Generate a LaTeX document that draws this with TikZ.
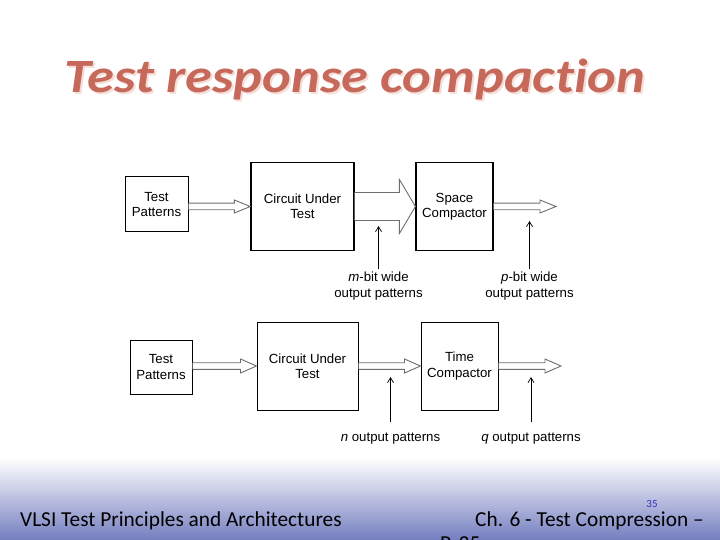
\documentclass[tikz,border=0pt]{standalone}
\usepackage{fontspec}
\setmainfont{Liberation Sans}
\newfontfamily\slidefont{Carlito}[Ligatures = CommonOff]
\usetikzlibrary{calc, arrows.meta}

\definecolor{titlered}{RGB}{198,104,90}
\definecolor{titleshade}{RGB}{246,222,216}
\definecolor{footblue}{RGB}{116,126,192}
\definecolor{pageblue}{RGB}{50,50,190}
\definecolor{shaftgray}{RGB}{110,110,110}

\newcommand{\diagfont}{\fontsize{13.3}{15.5}\selectfont}

% hollow block arrow: start, end, shaft half width, head half width, head length
\newcommand{\blockarrow}[5]{%
    \draw[shaftgray, line width = 0.9bp, fill = white] let \p1 = (#1), \p2 = (#2) in
        (\x1, \y1 + #3) -- (\x2 - #5, \y1 + #3) -- (\x2 - #5, \y1 + #4) -- (\x2, \y1)
        -- (\x2 - #5, \y1 - #4) -- (\x2 - #5, \y1 - #3) -- (\x1, \y1 - #3);
}

\begin{document}
\begin{tikzpicture}[x = 1bp, y = -1bp,
    blk/.style = {draw, line width = 1bp, align = center, font = \diagfont, inner sep = 0pt},
    lbl/.style = {align = center, font = \diagfont, inner sep = 1bp},
    ptr/.style = {-{Straight Barb[length = 5bp, width = 6bp]}, line width = 0.7bp},
    ttl/.style = {anchor = base, inner sep = 0pt, font = \slidefont\bfseries\itshape\fontsize{48}{50}\selectfont},
    foot/.style = {anchor = base west, inner sep = 0pt, font = \slidefont\fontsize{21.4}{24}\selectfont}]
    \useasboundingbox (0, 0) rectangle (720, 540);
    \begin{scope}
    \clip (0, 0) rectangle (720, 540);

    % footer band
    \shade[top color = white, bottom color = footblue] (0, 458) rectangle (720, 540);

    % title
    \node[ttl, text = titleshade] at (357, 95) {\scalebox{1.14}[1]{Test response compaction}};
    \node[ttl, text = titlered] (title) at (355, 93) {\scalebox{1.14}[1]{Test response compaction}};

    % space compaction
    \node[blk, minimum width = 63bp, minimum height = 55bp] (tp1) at (156.5, 204.5) {Test\\Patterns};
    \node[blk, line width = 1.4bp, minimum width = 103bp, minimum height = 88bp] (cut1) at (302.5, 206.5) {Circuit Under\\Test};
    \node[blk, line width = 1.2bp, minimum width = 77bp, minimum height = 88bp] (sc1) at (454.5, 206.5) {Space\\Compactor};
    \coordinate (out1) at (556, 207);

    \blockarrow{tp1.east |- cut1.west}{cut1.west}{3.3bp}{6.5bp}{16bp}
    \blockarrow{cut1.east}{sc1.west}{14bp}{27bp}{16bp}
    \blockarrow{sc1.east}{out1}{3.3bp}{6.5bp}{16bp}

    \node[lbl, anchor = north] (mlab) at (378.5, 271) {\textit{m}-bit wide\\output patterns};
    \node[lbl, anchor = north] (plab) at (529.5, 271) {\textit{p}-bit wide\\output patterns};
    \coordinate (mtip) at (378.5, 226);
    \coordinate (ptip) at (529.5, 221);
    \draw[ptr, shorten <= 2bp] (mlab.north) -- (mtip);
    \draw[ptr, shorten <= 2bp] (plab.north) -- (ptip);

    % time compaction
    \node[blk, minimum width = 62bp, minimum height = 54bp] (tp2) at (161, 367) {Test\\Patterns};
    \node[blk, minimum width = 101bp, minimum height = 88bp] (cut2) at (307.5, 366) {Circuit Under\\Test};
    \node[blk, minimum width = 77bp, minimum height = 88bp] (tc2) at (459.5, 366) {Time\\Compactor};
    \coordinate (out2) at (561, 366);

    \blockarrow{tp2.east |- cut2.west}{cut2.west}{3.3bp}{7bp}{16bp}
    \blockarrow{cut2.east}{tc2.west}{3.3bp}{7bp}{16bp}
    \blockarrow{tc2.east}{out2}{3.3bp}{7bp}{16bp}

    \node[lbl, anchor = north] (nlab) at (390.5, 432) {\textit{n} output patterns};
    \node[lbl, anchor = north] (qlab) at (531, 432) {\textit{q} output patterns};
    \coordinate (ntip) at (390.5, 377);
    \coordinate (qtip) at (531, 377);
    \draw[ptr, shorten <= 10bp] (nlab.north) -- (ntip);
    \draw[ptr, shorten <= 10bp] (qlab.north) -- (qtip);

    % footer texts
    \node[foot] (book) at (20, 526) {VLSI Test Principles and Architectures};
    \node[foot] (chap) at (475, 526) {Ch. 6 - Test Compression –};
    \node[foot] (pg) at (440, 550) {P. 35};
    \node[anchor = base, inner sep = 0pt, text = pageblue, font = \slidefont\fontsize{11}{12}\selectfont] (num) at (652, 507) {35};
    \end{scope}
\end{tikzpicture}
\end{document}
